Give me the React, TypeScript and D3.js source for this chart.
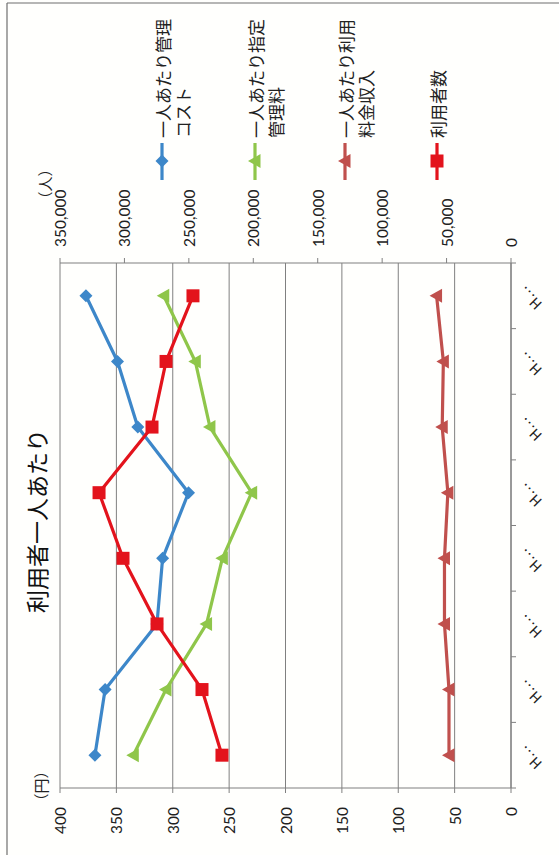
import React from "react";
import * as d3 from "d3";

const categories = ["H…", "H…", "H…", "H…", "H…", "H…", "H…", "H…"];
const costPerUser = [369, 360, 314, 309, 286, 331, 349, 377];
const feePerUser = [335, 306, 270, 256, 230, 267, 280, 308];
const revenuePerUser = [55, 55, 59, 59, 56, 61, 60, 66];
const users = [224300, 239800, 274700, 301100, 319700, 278600, 267700, 246800];
const yenTicks = [0, 50, 100, 150, 200, 250, 300, 350, 400];
const userTicks = [0, 50000, 100000, 150000, 200000, 250000, 300000, 350000];
const legendLabels = [
  ["一人あたり管理", "コスト"],
  ["一人あたり指定", "管理料"],
  ["一人あたり利用", "料金収入"],
  ["利用者数"],
];

const W = 559;
const H = 855;
const JP = "'Noto Sans CJK JP', 'Noto Sans', sans-serif";
const NUM = "Lato, 'Open Sans', sans-serif";

const BLUE = "#3d87c9";
const GREEN = "#8fc64a";
const DRED = "#c0504d";
const RED = "#e3131c";
const GRID = "#808080";

type MarkerKind = "diamond" | "triangle" | "square";

function Marker({ kind, x, y, color }: { kind: MarkerKind; x: number; y: number; color: string }) {
  if (kind === "diamond") {
    const r = 6.5;
    return <path d={`M${x},${y - r}L${x + r},${y}L${x},${y + r}L${x - r},${y}Z`} fill={color} />;
  }
  if (kind === "triangle") {
    return <path d={`M${x},${y - 7}L${x + 7},${y + 5.5}L${x - 7},${y + 5.5}Z`} fill={color} />;
  }
  const s = 6.5;
  return <rect x={x - s} y={y - s} width={2 * s} height={2 * s} fill={color} />;
}

export default function App() {
  // original (unrotated) frame: u horizontal, v vertical; drawn rotated -90deg
  const x = d3
    .scaleBand<number>()
    .domain(categories.map((_, i) => i))
    .range([67, 592]);
  const yL = d3.scaleLinear().domain([0, 400]).range([511, 60]);
  const yR = d3.scaleLinear().domain([0, 350000]).range([511, 60]);
  const cx = (i: number) => (x(i) as number) + x.bandwidth() / 2;

  const lineL = d3
    .line<number>()
    .x((_, i) => cx(i))
    .y((d) => yL(d));
  const lineR = d3
    .line<number>()
    .x((_, i) => cx(i))
    .y((d) => yR(d));

  const series = [
    { data: costPerUser, line: lineL, scale: yL, color: BLUE, kind: "diamond" as MarkerKind },
    { data: feePerUser, line: lineL, scale: yL, color: GREEN, kind: "triangle" as MarkerKind },
    { data: revenuePerUser, line: lineL, scale: yL, color: DRED, kind: "triangle" as MarkerKind },
    { data: users, line: lineR, scale: yR, color: RED, kind: "square" as MarkerKind },
  ];

  const legendV = [162, 255, 345, 437];
  const legendColors = [BLUE, GREEN, DRED, RED];
  const legendKinds: MarkerKind[] = ["diamond", "triangle", "triangle", "square"];

  const bounds = x.range();
  const boundaries = categories.map((_, i) => x(i) as number).concat([bounds[1]]);

  return (
    <svg
      width={W}
      height={H}
      style={{ position: "absolute", left: 0, top: 0, background: "#fffffd" }}
    >
      <rect x={0} y={0} width={W} height={H} fill="#fffffd" />
      <line x1={7} y1={3} x2={7} y2={H} stroke="#6f6f6f" strokeWidth={1.2} />
      <line x1={7} y1={3} x2={W} y2={3} stroke="#6f6f6f" strokeWidth={1.2} />
      <g transform={`translate(0,${H}) rotate(-90)`}>
        {/* gridlines */}
        {yenTicks.map((t) => (
          <line key={"g" + t} x1={bounds[0]} x2={bounds[1]} y1={yL(t)} y2={yL(t)} stroke={GRID} strokeWidth={1} />
        ))}
        {/* left axis */}
        <line x1={bounds[0]} x2={bounds[0]} y1={yL(0)} y2={yL(400)} stroke={GRID} strokeWidth={1.2} />
        {yenTicks.map((t) => (
          <g key={"l" + t}>
            <line x1={bounds[0] - 5} x2={bounds[0]} y1={yL(t)} y2={yL(t)} stroke={GRID} />
            <text
              x={48}
              y={yL(t)}
              textAnchor="end"
              dominantBaseline="central"
              fontFamily={NUM}
              fontSize={15.5}
              fill="#222"
            >
              {t}
            </text>
          </g>
        ))}
        <text x={69} y={40} textAnchor="middle" dominantBaseline="central" fontFamily={JP} fontSize={15} fill="#222">
          （円）
        </text>
        {/* right axis */}
        <line x1={bounds[1]} x2={bounds[1]} y1={yR(0)} y2={yR(350000)} stroke={GRID} strokeWidth={1.2} />
        {userTicks.map((t) => (
          <g key={"r" + t}>
            <line x1={bounds[1]} x2={bounds[1] + 5} y1={yR(t)} y2={yR(t)} stroke={GRID} />
            <text
              x={608}
              y={yR(t)}
              textAnchor="start"
              dominantBaseline="central"
              fontFamily={NUM}
              fontSize={15.5}
              fill="#222"
            >
              {d3.format(",")(t)}
            </text>
          </g>
        ))}
        <text x={671} y={44} textAnchor="middle" dominantBaseline="central" fontFamily={JP} fontSize={15} fill="#222">
          （人）
        </text>
        {/* category axis */}
        <line x1={bounds[0]} x2={bounds[1]} y1={yL(0)} y2={yL(0)} stroke={GRID} strokeWidth={1.2} />
        {boundaries.map((b, i) => (
          <line key={"c" + i} x1={b} x2={b} y1={yL(0)} y2={yL(0) + 5} stroke={GRID} />
        ))}
        {categories.map((c, i) => (
          <text
            key={"cl" + i}
            transform={`translate(${cx(i) + 10},${yL(0) + 14}) rotate(-45)`}
            textAnchor="end"
            fontFamily={JP}
            fontSize={14}
            fill="#222"
          >
            {c}
          </text>
        ))}
        {/* series */}
        {series.map((s, si) => (
          <g key={"s" + si}>
            <path d={s.line(s.data) || ""} fill="none" stroke={s.color} strokeWidth={3.2} strokeLinejoin="round" />
            {s.data.map((d, i) => (
              <Marker key={i} kind={s.kind} x={cx(i)} y={s.scale(d)} color={s.color} />
            ))}
          </g>
        ))}
        {/* title */}
        <text x={334} y={36} textAnchor="middle" dominantBaseline="central" fontFamily={JP} fontSize={23} fill="#111">
          利用者一人あたり
        </text>
        {/* legend */}
        {legendLabels.map((lines, i) => (
          <g key={"lg" + i}>
            <line x1={675} x2={712} y1={legendV[i]} y2={legendV[i]} stroke={legendColors[i]} strokeWidth={3.2} />
            <Marker kind={legendKinds[i]} x={694} y={legendV[i]} color={legendColors[i]} />
            {lines.map((ln, j) => (
              <text
                key={j}
                x={717}
                y={legendV[i] + j * 20}
                dominantBaseline="central"
                fontFamily={JP}
                fontSize={17}
                fill="#222"
              >
                {ln}
              </text>
            ))}
          </g>
        ))}
      </g>
    </svg>
  );
}
